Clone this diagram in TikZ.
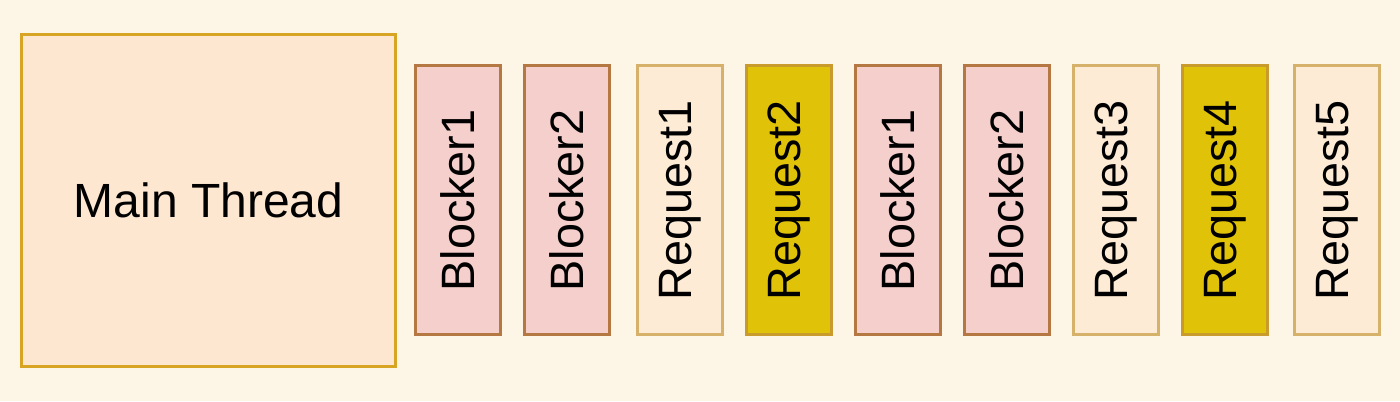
\documentclass[tikz,border=0pt]{standalone}
\usepackage{fontspec}
\setmainfont{Liberation Sans}
\usetikzlibrary{positioning}

\definecolor{paper}{HTML}{FDF5E6}
\definecolor{threadfill}{HTML}{FEE7D1}
\definecolor{threadedge}{HTML}{D8A424}
\definecolor{blockfill}{HTML}{F5CFCB}
\definecolor{blockedge}{HTML}{B67842}
\definecolor{reqfill}{HTML}{FDEBD5}
\definecolor{reqedge}{HTML}{D6B16A}
\definecolor{hotfill}{HTML}{E0C308}
\definecolor{hotedge}{HTML}{C99A2C}

\begin{document}
\begin{tikzpicture}[
    node distance=10.5pt,
    thread/.style={draw=threadedge, line width=1.5pt, fill=threadfill, minimum width=187pt, minimum height=166pt, font=\fontsize{24}{28}\selectfont},
    slot/.style={line width=1.5pt, minimum width=42.5pt, minimum height=134.5pt, inner sep=0pt, font=\fontsize{23.4}{27}\selectfont},
    blocker/.style={slot, draw=blockedge, fill=blockfill},
    request/.style={slot, draw=reqedge, fill=reqfill},
    hotreq/.style={slot, draw=hotedge, fill=hotfill},
]
\fill[paper] (0,0) rectangle (700pt,200.5pt);
\node[thread] (main) at (104.25pt,100.25pt) {Main Thread};
\node[blocker, right=8.5pt of main] (blockA) {\rotatebox{90}{Blocker1}};
\node[blocker, right=of blockA] (blockB) {\rotatebox{90}{Blocker2}};
\node[request, right=12.5pt of blockB] (reqA) {\rotatebox{90}{Request1}};
\node[hotreq, right=of reqA] (reqB) {\rotatebox{90}{Request2}};
\node[blocker, right=of reqB] (blockC) {\rotatebox{90}{Blocker1}};
\node[blocker, right=of blockC] (blockD) {\rotatebox{90}{Blocker2}};
\node[request, right=of blockD] (reqC) {\rotatebox{90}{Request3}};
\node[hotreq, right=of reqC] (reqD) {\rotatebox{90}{Request4}};
\node[request, right=12pt of reqD] (reqE) {\rotatebox{90}{Request5}};
\end{tikzpicture}
\end{document}
